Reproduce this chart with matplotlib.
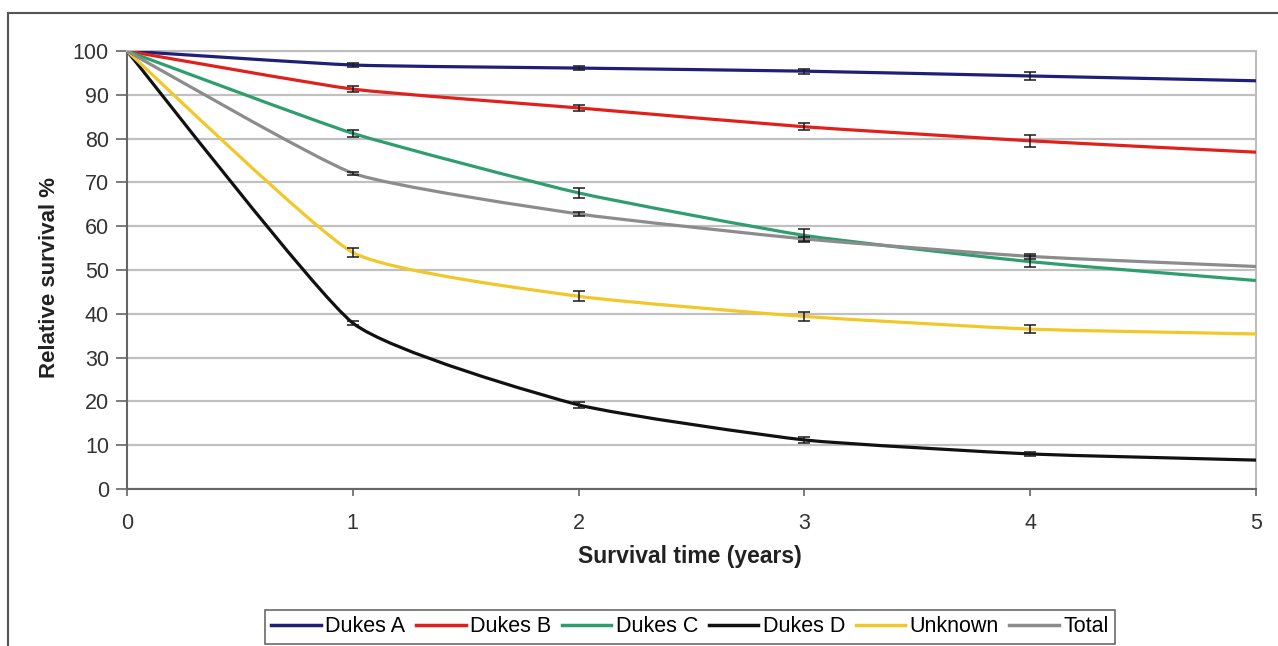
import numpy as np
import matplotlib.pyplot as plt
from matplotlib.path import Path
from matplotlib.patches import PathPatch
from matplotlib.lines import Line2D

plt.rcParams['font.family'] = ['Liberation Sans', 'DejaVu Sans']

years = [0, 1, 2, 3, 4, 5]
series_names = ["Dukes A", "Dukes B", "Dukes C", "Dukes D", "Unknown", "Total"]
dukes_a = [100, 96.8, 96.1, 95.4, 94.3, 93.2]
dukes_b = [100, 91.3, 87.0, 82.7, 79.5, 76.9]
dukes_c = [100, 81.2, 67.6, 57.9, 51.9, 47.6]
dukes_d = [100, 37.9, 19.2, 11.2, 8.0, 6.6]
unknown = [100, 54.0, 44.0, 39.4, 36.5, 35.4]
total = [100, 72.1, 62.8, 57.1, 53.1, 50.8]

# error bars only at years 1-4
err_a = [0.4, 0.5, 0.6, 0.9]
err_b = [0.6, 0.7, 0.8, 1.4]
err_c = [0.8, 1.2, 1.4, 1.3]
err_d = [0.5, 0.7, 0.6, 0.5]
err_u = [1.0, 1.1, 1.1, 0.9]
err_t = [0.3, 0.4, 0.5, 0.5]

colors = ["#1f1f7a", "#e0201b", "#2e9e6e", "#111111", "#f2c72a", "#8c8c8c"]
values = [dukes_a, dukes_b, dukes_c, dukes_d, unknown, total]
errors = [err_a, err_b, err_c, err_d, err_u, err_t]


def smooth_path(x, y, tension=0.08):
    """Excel-like smoothed line as cubic bezier (Catmull-Rom, low tension)"""
    pts = np.column_stack([np.asarray(x, float), np.asarray(y, float)])
    verts = [pts[0]]
    codes = [Path.MOVETO]
    n = len(pts)
    for i in range(n - 1):
        p0 = pts[i - 1] if i > 0 else pts[i]
        p1 = pts[i]
        p2 = pts[i + 1]
        p3 = pts[i + 2] if i + 2 < n else pts[i + 1]
        c1 = p1 + (p2 - p0) * tension
        c2 = p2 - (p3 - p1) * tension
        verts += [c1, c2, p2]
        codes += [Path.CURVE4] * 3
    return Path(verts, codes)


fig = plt.figure(figsize=(12.78, 6.46), dpi=100)
ax = fig.add_axes([127 / 1278, 1 - 489 / 646, (1256 - 127) / 1278, (489 - 51) / 646])

# outer frame
fig.add_artist(Line2D([8 / 1278, 8 / 1278], [0, 1 - 13 / 646], transform=fig.transFigure,
                      color="#555555", lw=1.5))
fig.add_artist(Line2D([8 / 1278, 1], [1 - 13 / 646, 1 - 13 / 646], transform=fig.transFigure,
                      color="#555555", lw=1.5))

for name, vals, errs, c in zip(series_names, values, errors, colors):
    patch = PathPatch(smooth_path(years, vals), facecolor="none", edgecolor=c, lw=2.3,
                      zorder=3, capstyle="round", joinstyle="round")
    ax.add_patch(patch)
    ax.errorbar(years[1:5], vals[1:5], yerr=errs, fmt="none", ecolor="#1a1a1a",
                elinewidth=1.1, capsize=4, capthick=1.1, zorder=4)

ax.set_xlim(0, 5)
ax.set_ylim(0, 100)
ax.set_yticks(range(0, 101, 10))
ax.set_xticks(years)
ax.yaxis.grid(True, color="#c0c0c0", lw=1.6)
ax.set_axisbelow(True)

for side in ["left", "bottom"]:
    ax.spines[side].set_color("#666666")
    ax.spines[side].set_linewidth(1.5)
for side in ["top", "right"]:
    ax.spines[side].set_color("#bdbdbd")
    ax.spines[side].set_linewidth(1.5)

ax.tick_params(axis="both", direction="out", width=1.2, color="#666666",
               labelsize=15.5, labelcolor="#333333")
ax.tick_params(axis="x", length=5, pad=12)
ax.tick_params(axis="y", length=8, pad=5)

ax.set_ylabel("Relative survival %", fontsize=16, fontweight="bold", color="#222222")
ax.yaxis.set_label_coords(50 / 1278, 1 - 277 / 646, transform=fig.transFigure)
ax.set_xlabel("Survival time (years)", fontsize=16.5, fontweight="bold", color="#222222")
ax.xaxis.set_label_coords(690 / 1278, 1 - 556 / 646, transform=fig.transFigure)
ax.xaxis.label.set_va("center")
ax.yaxis.label.set_va("center")

handles = [Line2D([], [], color=c, lw=2.5) for c in colors]
leg = fig.legend(handles, series_names, loc="center", bbox_to_anchor=(690 / 1278, 1 - 627 / 646),
                 ncol=6, fontsize=15.5, frameon=True, fancybox=False, edgecolor="#444444",
                 handlelength=2.3, handletextpad=0.2, columnspacing=0.5, borderpad=0.3)
leg.get_frame().set_linewidth(1.2)

fig.savefig("out.png", dpi=100)
